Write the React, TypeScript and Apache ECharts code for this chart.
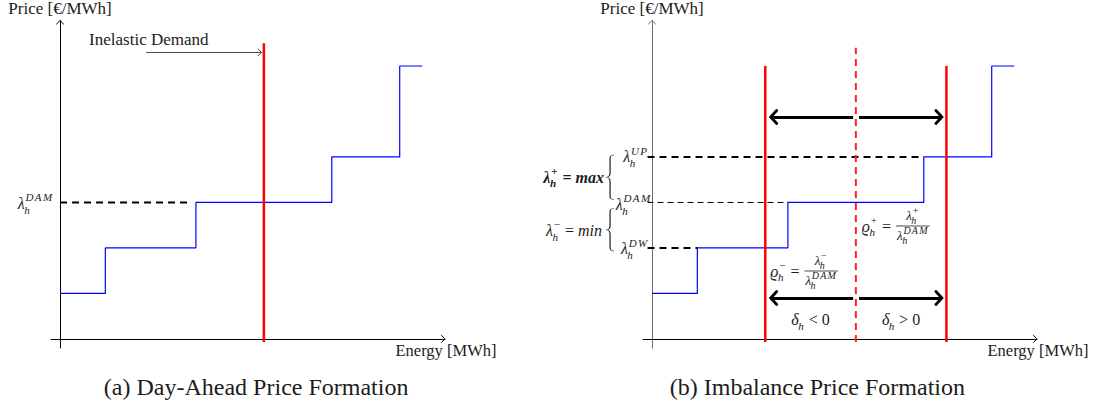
import React, { useEffect, useRef } from "react";
import * as echarts from "echarts";

const FONT = "Liberation Serif";
const MFONT = "'Liberation Serif', serif";
const INK = "#1c1c1c";

// ---- data (energy in MWh, price in €/MWh, schematic units) ----
const stepEnergy = [0, 1, 3, 6, 7.5, 8];
const stepPrice = [1, 2, 3, 4, 6];
const dayAheadDemand = 4.5;
const demandTop = 6.5;
const shortPosition = 2.5;
const longPosition = 6.5;
const positionTop = 6;
const dashedTop = 6.4;
const priceUP = 4;
const priceDAM = 3;
const priceDW = 2;
const lineBottom = -0.07;
const xRange = [-0.2, 8.5];
const yRange = [-0.2, 7];
const inelasticArrowX = [1.9, 4.45];
const inelasticArrowY = 6.3;
const imbalanceArrowY = [4.88, 0.9];
const imbalanceArrowStart = [4.44, 4.57];
const imbalanceArrowEnd = [2.62, 6.4];

const BRACE_D =
  "M8,0 C5,0 4,2 4,8 L4,40 C4,46 3,50 0,50 C3,50 4,54 4,60 L4,92 C4,98 5,100 8,100";
echarts.graphic.registerShape("brace", echarts.graphic.extendPath(BRACE_D, {}));

let mctx: CanvasRenderingContext2D | null = null;
function measure(text: string, f: string) {
  if (!mctx) mctx = document.createElement("canvas").getContext("2d");
  mctx!.font = f;
  return mctx!.measureText(text).width;
}
function font(size: number, it: boolean, b: boolean) {
  return `${it ? "italic " : ""}${b ? "bold " : ""}${size}px ${MFONT}`;
}

function txt(text: string, x: number, y: number, size: number, opt: any = {}) {
  const style: any = {
    text,
    fontFamily: FONT,
    fontSize: size,
    fill: opt.color || INK,
    align: opt.align || "left",
    verticalAlign: "middle",
  };
  if (opt.it) style.fontStyle = "italic";
  if (opt.b) style.fontWeight = "bold";
  return { type: "text", x, y, silent: true, z: 100, style };
}

type Piece = { t: string; it?: boolean; b?: boolean; sup?: string; sub?: string; supUp?: boolean };
type Item = { text: string; dx: number; dy: number; size: number; it: boolean; b: boolean };

function pushSpaced(items: Item[], s: string, x: number, dy: number, size: number, it: boolean, b: boolean) {
  const ls = s.length > 1 ? 0.12 * size : 0;
  let cx = x;
  for (const ch of s) {
    items.push({ text: ch, dx: cx, dy, size, it, b });
    cx += measure(ch, font(size, it, b)) + ls;
  }
  return cx - x - (s.length > 1 ? ls : 0);
}

function layout(pieces: Piece[], size: number, ss: number) {
  const items: Item[] = [];
  let x = 0;
  for (const p of pieces) {
    const it = !!p.it;
    const b = !!p.b;
    items.push({ text: p.t, dx: x, dy: 0, size, it, b });
    x += measure(p.t, font(size, it, b));
    if (p.sup || p.sub) {
      let w = 0;
      if (p.sup) {
        const sit = !p.supUp;
        const sw = pushSpaced(items, p.sup, x + 0.8, -0.4 * size, ss, sit, b);
        w = Math.max(w, sw + 0.8);
      }
      if (p.sub) {
        const sw = pushSpaced(items, p.sub, x - 0.5, 0.38 * size, ss, true, b);
        w = Math.max(w, sw - 0.5);
      }
      x += w + 1;
    }
  }
  return { items, width: x };
}

function place(l: { items: Item[]; width: number }, x: number, y: number, align: string) {
  const x0 = align === "right" ? x - l.width : align === "center" ? x - l.width / 2 : x;
  return l.items.map((i) => txt(i.text, x0 + i.dx, y + i.dy, i.size, { it: i.it, b: i.b }));
}

function hline(x1: number, x2: number, y: number, w = 0.8) {
  return {
    type: "line",
    silent: true,
    z: 100,
    shape: { x1, y1: y, x2, y2: y },
    style: { stroke: INK, lineWidth: w },
  };
}

// chevron arrow head; dir = +1 (right/up) or -1 (left/down)
function head(tx: number, ty: number, horizontal: boolean, dir: number, len: number, half: number, w: number, color: string) {
  const pts = horizontal
    ? [[tx - dir * len, ty - half], [tx, ty], [tx - dir * len, ty + half]]
    : [[tx - half, ty + dir * len], [tx, ty], [tx + half, ty + dir * len]];
  return {
    type: "polyline",
    silent: true,
    z: 90,
    shape: { points: pts },
    style: { stroke: color, lineWidth: w, fill: "none", lineJoin: "miter", lineCap: "round" },
  };
}

function fracEls(num: Piece[], den: Piece[], size: number, ss: number, xLeft: number, yBar: number) {
  const n = layout(num, size, ss);
  const d = layout(den, size, ss);
  const w = Math.max(n.width, d.width) + 2;
  const cx = xLeft + w / 2;
  return [
    ...place(n, cx, yBar - 0.78 * size, "center"),
    hline(xLeft, xLeft + w, yBar),
    ...place(d, cx, yBar + 0.75 * size, "center"),
  ];
}

function brace(x: number, top: number, bottom: number) {
  return {
    type: "brace",
    x,
    y: top,
    scaleX: 1,
    scaleY: (bottom - top) / 100,
    silent: true,
    z: 100,
    style: { fill: "none", stroke: INK, lineWidth: 1.2, strokeNoScale: true },
  };
}

function supplyPoints() {
  const pts: number[][] = [];
  stepPrice.forEach((p, i) => {
    pts.push([stepEnergy[i], p]);
    pts.push([stepEnergy[i + 1], p]);
  });
  return pts;
}

function axis(grid: number, range: number[], color: string) {
  return {
    type: "value",
    gridIndex: grid,
    min: range[0],
    max: range[1],
    axisLine: { show: true, onZero: true, lineStyle: { color, width: 1 } },
    axisTick: { show: false },
    axisLabel: { show: false },
    splitLine: { show: false },
  };
}

function seg(grid: number, data: number[][], color: string, width: number, type: any = "solid", extra: any = {}) {
  return {
    type: "line",
    xAxisIndex: grid,
    yAxisIndex: grid,
    data,
    showSymbol: false,
    symbol: "none",
    silent: true,
    lineStyle: { color, width, type },
    ...extra,
  };
}

function buildOption() {
  const pts = supplyPoints();
  const thickArrows = {
    markLine: {
      silent: true,
      symbol: ["none", "none"],
      label: { show: false },
      lineStyle: { color: "#000", width: 3, type: "solid" },
      data: imbalanceArrowY.flatMap((y) =>
        imbalanceArrowStart.map((s, i) => [{ coord: [s, y] }, { coord: [imbalanceArrowEnd[i], y] }])
      ),
    },
  };
  const inelastic = {
    markLine: {
      silent: true,
      symbol: ["none", "none"],
      label: { show: false },
      lineStyle: { color: "#4a4a4a", width: 1, type: "solid" },
      data: [[{ coord: [inelasticArrowX[0], inelasticArrowY] }, { coord: [inelasticArrowX[1], inelasticArrowY] }]],
    },
  };
  return {
    animation: false,
    backgroundColor: "#fff",
    textStyle: { fontFamily: FONT },
    grid: [
      { left: 51, top: 20.5, width: 394, height: 327.5, outerBoundsMode: "none" },
      { left: 643, top: 20.5, width: 394, height: 327.5, outerBoundsMode: "none" },
    ],
    xAxis: [axis(0, xRange, "#000"), axis(1, xRange, "#000")],
    yAxis: [axis(0, yRange, "#000"), axis(1, yRange, "#6e6e6e")],
    series: [
      // (a)
      seg(0, pts, "#0000ff", 1.2),
      seg(0, [[0, priceDAM], [stepEnergy[2] - 0.1, priceDAM]], "#000", 2, [7, 5], inelastic),
      seg(0, [[dayAheadDemand, lineBottom], [dayAheadDemand, demandTop]], "#ff0000", 2.5),
      // (b)
      seg(1, pts, "#0000ff", 1.2),
      seg(1, [[-0.1, priceUP], [stepEnergy[3], priceUP]], "#000", 2, [7, 5]),
      seg(1, [[-0.1, priceDAM], [stepEnergy[2], priceDAM]], "#000", 1, [6, 4]),
      seg(1, [[-0.1, priceDW], [stepEnergy[1], priceDW]], "#000", 2, [7, 5]),
      seg(1, [[shortPosition, lineBottom], [shortPosition, positionTop]], "#ff0000", 2.5),
      seg(1, [[longPosition, lineBottom], [longPosition, positionTop]], "#ff0000", 2.5),
      seg(1, [[dayAheadDemand, lineBottom], [dayAheadDemand, dashedTop]], "#ff2020", 2, [7, 5], thickArrows),
    ],
  };
}

function buildGraphics(chart: any) {
  const P = (g: number, x: number, y: number) => chart.convertToPixel({ gridIndex: g }, [x, y]) as number[];
  const els: any[] = [];
  const M = 16;
  const S = 11;
  for (const g of [0, 1]) {
    const top = P(g, 0, yRange[1]);
    els.push(head(top[0], top[1], false, 1, 3.5, 3.5, 1, g === 1 ? "#6e6e6e" : "#000"));
    els.push(txt("Price [€/MWh]", top[0], 8, 17, { align: "center" }));
    const end = P(g, xRange[1], 0);
    els.push(head(end[0], end[1], true, 1, 3.5, 3.5, 1, "#000"));
    els.push(txt("Energy [MWh]", end[0] + 1, end[1] + 12, 16.5, { align: "center" }));
  }
  // (a)
  const ia = P(0, inelasticArrowX[0], inelasticArrowY);
  const ie = P(0, inelasticArrowX[1], inelasticArrowY);
  els.push(head(ie[0], ie[1], true, 1, 3.5, 3.5, 1, "#4a4a4a"));
  els.push(txt("Inelastic Demand", ia[0] - 57, ia[1] - 13, 17));
  const d0 = P(0, 0, priceDAM);
  els.push(...place(layout([{ t: "λ", it: true, sup: "DAM", sub: "h" }], M, S), d0[0] - 7, d0[1] + 1, "right"));
  els.push(txt("(a) Day-Ahead Price Formation", P(0, 4.33, 0)[0], 387, 24, { align: "center" }));

  // (b) thick arrow heads
  imbalanceArrowY.forEach((y) => {
    imbalanceArrowEnd.forEach((x, i) => {
      const p = P(1, x, y);
      els.push(head(p[0], p[1], true, i === 0 ? -1 : 1, 6, 6.5, 2.8, "#000"));
    });
  });

  const up = P(1, 0, priceUP);
  const dam = P(1, 0, priceDAM);
  const dw = P(1, 0, priceDW);
  els.push(...place(layout([{ t: "λ", it: true, sup: "UP", sub: "h" }], M, S), up[0] - 4, up[1], "right"));
  els.push(...place(layout([{ t: "λ", it: true, sup: "DAM", sub: "h" }], M, S), dam[0] - 1, dam[1] + 2, "right"));
  els.push(...place(layout([{ t: "λ", it: true, sup: "DW", sub: "h" }], M, S), dw[0] - 4, dw[1] + 1, "right"));

  const bx = up[0] - 46;
  const b1 = [up[1] - 2, dam[1] - 3];
  const b2 = [dam[1] + 6, dw[1] + 3];
  els.push(brace(bx, b1[0], b1[1]));
  els.push(brace(bx, b2[0], b2[1]));
  els.push(
    ...place(
      layout([{ t: "λ", it: true, b: true, sup: "+", supUp: true, sub: "h" }, { t: " = ", b: true }, { t: "max", it: true, b: true }], M, S),
      bx - 2,
      (b1[0] + b1[1]) / 2,
      "right"
    )
  );
  els.push(
    ...place(
      layout([{ t: "λ", it: true, sup: "−", supUp: true, sub: "h" }, { t: " = " }, { t: "min", it: true }], M, S),
      bx - 4,
      (b2[0] + b2[1]) / 2 + 1,
      "right"
    )
  );

  // ϱ+ and ϱ-
  const mid = P(1, dayAheadDemand, 0)[0];
  const rhoPlus = layout([{ t: "ϱ", it: true, sup: "+", supUp: true, sub: "h" }, { t: " = " }], M, S);
  const yPlus = 226;
  els.push(...place(rhoPlus, mid + 6, yPlus, "left"));
  els.push(
    ...fracEls(
      [{ t: "λ", it: true, sup: "+", supUp: true, sub: "h" }],
      [{ t: "λ", it: true, sup: "DAM", sub: "h" }],
      13, 10, mid + 6 + rhoPlus.width + 1, yPlus
    )
  );
  const rhoMinus = layout([{ t: "ϱ", it: true, sup: "−", supUp: true, sub: "h" }, { t: " = " }], M, S);
  const yMinus = 271;
  const sx = P(1, shortPosition, 0)[0];
  els.push(...place(rhoMinus, sx + 5, yMinus, "left"));
  els.push(
    ...fracEls(
      [{ t: "λ", it: true, sup: "−", supUp: true, sub: "h" }],
      [{ t: "λ", it: true, sup: "DAM", sub: "h" }],
      13, 10, sx + 5 + rhoMinus.width + 1, yMinus
    )
  );

  // δ labels
  const dl = P(1, (shortPosition + dayAheadDemand) / 2, 0.42);
  const dr = P(1, (dayAheadDemand + longPosition) / 2, 0.42);
  els.push(...place(layout([{ t: "δ", it: true, sub: "h" }, { t: " < 0" }], M, S), dl[0], dl[1], "center"));
  els.push(...place(layout([{ t: "δ", it: true, sub: "h" }, { t: " > 0" }], M, S), dr[0], dr[1], "center"));

  els.push(txt("(b) Imbalance Price Formation", P(1, 3.65, 0)[0], 387, 24, { align: "center" }));
  return els;
}

export default function App() {
  const ref = useRef<HTMLDivElement>(null);
  useEffect(() => {
    const chart = echarts.init(ref.current!, null, { renderer: "svg" });
    chart.setOption(buildOption() as any);
    chart.setOption({ graphic: { elements: buildGraphics(chart) } } as any);
    return () => chart.dispose();
  }, []);
  return (
    <div
      ref={ref}
      style={{ position: "absolute", left: 0, top: 0, width: 1094, height: 406, background: "#fff" }}
    />
  );
}
